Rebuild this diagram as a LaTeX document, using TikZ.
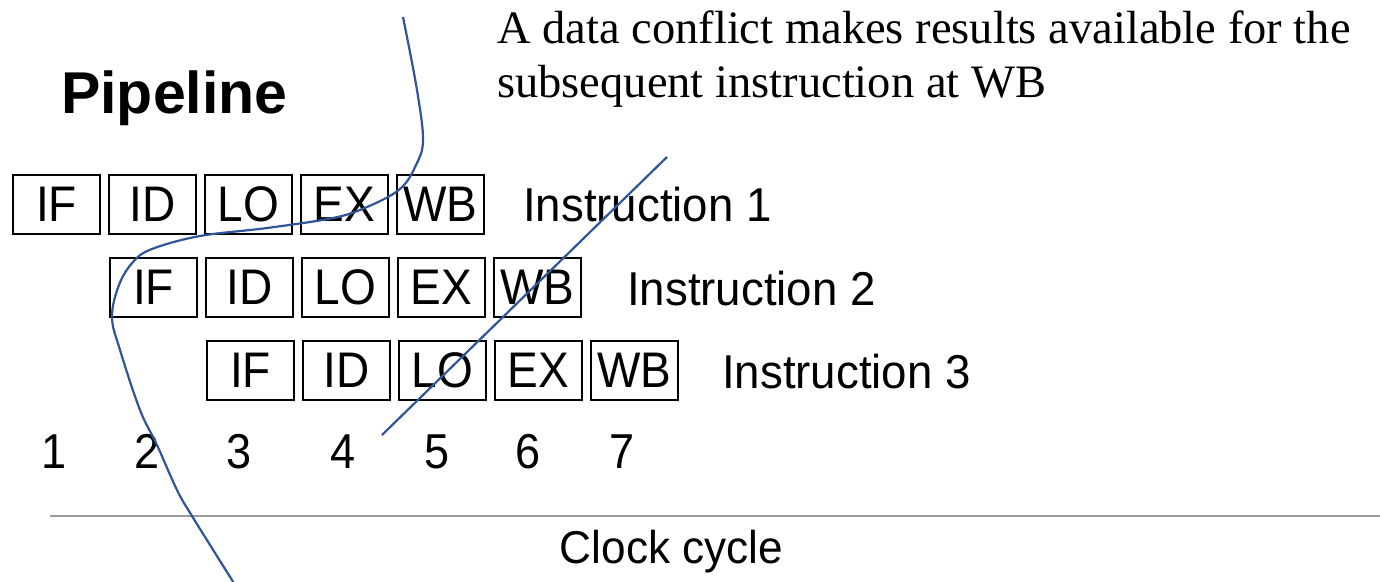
\documentclass[tikz,border=0pt]{standalone}
\usepackage{fontspec}
\setmainfont{Liberation Sans}
\newfontfamily\serifface{Liberation Serif}
\newfontfamily\condsans[FakeStretch=0.92]{Liberation Sans}
\newfontfamily\semicondsans[FakeStretch=0.96]{Liberation Sans}
\definecolor{curveblue}{HTML}{2F5597}
\definecolor{rulegray}{HTML}{9A9A9A}
\begin{document}
\begin{tikzpicture}[x=1pt,y=-1pt,
  stagebox/.style={draw=black, line width=1.9pt, minimum width=87pt, minimum height=59pt, inner sep=0pt,
    font=\condsans\fontsize{50}{60}\selectfont},
  instrlabel/.style={inner sep=0pt, anchor=base west, font=\semicondsans\fontsize{47.5}{57}\selectfont},
  cyclenum/.style={inner sep=0pt, anchor=base, font=\condsans\fontsize{49}{58}\selectfont},
  annot/.style={draw=curveblue, line width=2.2pt},
]
\useasboundingbox (0,0) rectangle (1380,581);

% title
\node[inner sep=0pt, anchor=base west, font=\fontsize{59}{70}\selectfont\bfseries] (title) at (61,113) {Pipeline};

% annotation text
\node[inner sep=0pt, anchor=base west, font=\fontsize{46.5}{56}\selectfont\serifface] (note1) at (497,43) {A data conflict makes results available for the};
\node[inner sep=0pt, anchor=base west, font=\fontsize{46.5}{56}\selectfont\serifface] (note2) at (497,97) {subsequent instruction at WB};

% pipeline stages
\foreach \r in {0,1,2}{
  \foreach [count=\c from 0] \s in {IF,ID,LO,EX,WB}{
    \node[stagebox] (b\r\c) at ({56.5+95.9*\c+97*\r},{204.5+83*\r}) {\s};
  }
}

% instruction labels
\node[instrlabel] (i1) at (523,221) {Instruction 1};
\node[instrlabel] (i2) at (627,305) {Instruction 2};
\node[instrlabel] (i3) at (722,388) {Instruction 3};

% clock cycle numbers
\foreach \x/\n in {54/1,147/2,239/3,343/4,437/5,528/6,622/7}{
  \node[cyclenum] (n\n) at (\x,468) {\n};
}

% axis rule and caption
\coordinate (ruleL) at (50,516);
\coordinate (ruleR) at (1380,516);
\draw[rulegray, line width=2.2pt] (ruleL) -- (ruleR);
\node[inner sep=0pt, anchor=base, font=\semicondsans\fontsize{46}{55}\selectfont] (clock) at (671.5,563) {Clock cycle};

% blue annotation strokes
\draw[annot] plot[smooth, tension=0.6] coordinates {
  (403,17) (417,90) (423,140) (416,165) (400,189) (367,207) (333,218)
  (267,228) (200,236) (152,249) (133,262) (119,285) (112,317) (120,350)
  (140,410) (157,445) (177,490) (192,516) (232,580) (236,586)};
\coordinate (lineA) at (382,435);
\coordinate (lineB) at (667,157);
\draw[annot] (lineA) -- (lineB);
\end{tikzpicture}
\end{document}
